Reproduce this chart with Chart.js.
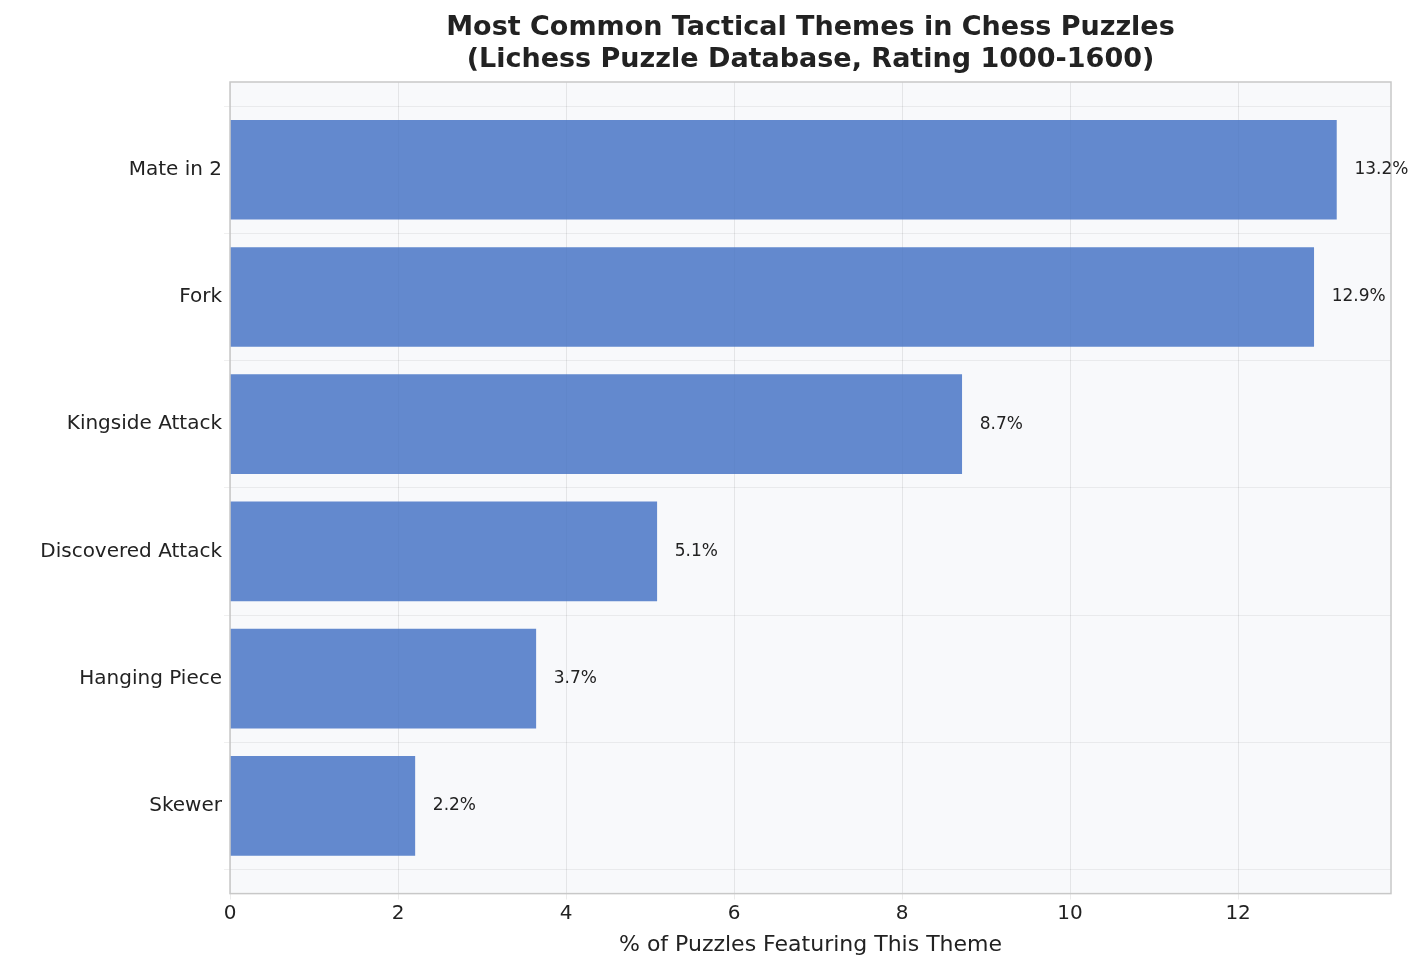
<!DOCTYPE html>
<html><head><meta charset="utf-8">
<script src="https://cdn.jsdelivr.net/npm/chart.js@4"></script>
<style>html,body{margin:0;padding:0;background:#fff}#w{width:1428px;height:968px}</style>
</head><body><div id="w"><canvas id="c"></canvas></div>
<script>
const categories = ["Mate in 2","Fork","Kingside Attack","Discovered Attack","Hanging Piece","Skewer"];
const values = [13.17, 12.9, 8.71, 5.08, 3.64, 2.2];
const valueLabels = ["13.2%","12.9%","8.7%","5.1%","3.7%","2.2%"];
const xTicks = [0,2,4,6,8,10,12];
const F = "'DejaVu Sans', sans-serif";
const bg = {id:'bg', beforeDraw(ch){const a=ch.chartArea,c=ch.ctx;c.save();c.fillStyle='#f8f9fb';c.fillRect(a.left,a.top,a.right-a.left,a.bottom-a.top);c.restore();},
 afterDraw(ch){const a=ch.chartArea,c=ch.ctx;c.save();c.strokeStyle='#c8c8c8';c.lineWidth=1.5;c.strokeRect(a.left,a.top,a.right-a.left,a.bottom-a.top);
 c.fillStyle='#222';c.textAlign='center';c.textBaseline='middle';c.font="bold 27px "+F;const cx=(a.left+a.right)/2;
 c.fillText("Most Common Tactical Themes in Chess Puzzles",cx,28);c.fillText("(Lichess Puzzle Database, Rating 1000-1600)",cx,60);
 c.font="17px "+F;c.textAlign='left';const xs=ch.scales.x,ys=ch.scales.y;
 values.forEach((v,i)=>{c.fillText(valueLabels[i],xs.getPixelForValue(v)+18,ys.getPixelForValue(i));});c.restore();}};
new Chart(document.getElementById('c'),{type:'bar',
 data:{datasets:[{data:values.map((v,i)=>({x:v,y:i})),backgroundColor:'rgba(68,114,196,0.83)',barThickness:99}]},
 options:{indexAxis:'y',responsive:true,maintainAspectRatio:false,animation:false,
  layout:{padding:{top:82,right:37,bottom:4,left:0}},
  plugins:{legend:{display:false},tooltip:{enabled:false}},
  scales:{
   x:{type:'linear',min:0,max:13.82,afterBuildTicks(s){s.ticks=xTicks.map(v=>({value:v}));},
     grid:{color:'rgba(0,0,0,0.08)',drawTicks:true,tickLength:6},border:{display:false},
     ticks:{color:'#222',font:{family:F,size:20},padding:2},
     title:{display:true,text:'% of Puzzles Featuring This Theme',color:'#222',font:{family:F,size:22},padding:{top:4,bottom:6}}},
   y:{type:'linear',offset:false,grace:0,min:-0.69,max:5.69,reverse:true,afterBuildTicks(s){s.ticks=categories.map((_,i)=>({value:i}));},
     afterFit(s){s.width=230;},
     grid:{color:'rgba(0,0,0,0.06)',tickLength:6},border:{display:false},
     ticks:{color:'#222',font:{family:F,size:20},padding:2,callback:(v)=>categories[v]}}
  }},plugins:[bg]});
</script></body></html>
